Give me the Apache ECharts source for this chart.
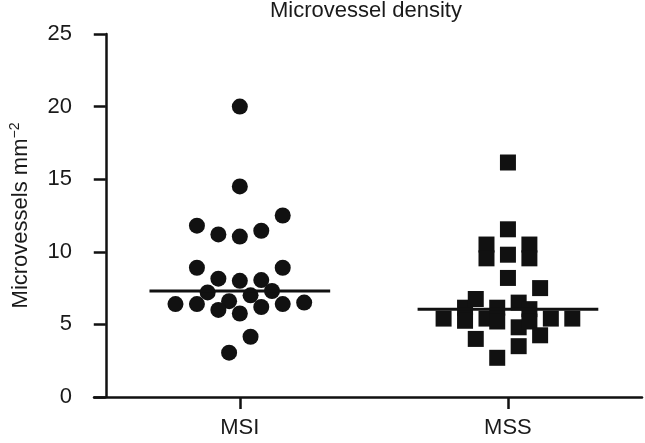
<!DOCTYPE html>
<html>
<head>
<meta charset="utf-8">
<script src="https://cdn.jsdelivr.net/npm/echarts@6/dist/echarts.min.js"></script>
<style>
  html, body { margin: 0; padding: 0; background: #fff; }
  #chart { width: 645px; height: 443px; }
</style>
</head>
<body>
<div id="chart"></div>
<script>
// groups sit at x = 0.5 and 1.5 on a hidden value axis; x is the column jitter
const categories = ['MSI', 'MSS']
const groupCentres = [0.5, 1.5]
const medians = [7.3, 6.05]

const msiPoints = [
  [0.50, 20.0], [0.50, 14.5], [0.34, 11.8], [0.42, 11.2], [0.50, 11.05],
  [0.58, 11.45], [0.66, 12.5], [0.34, 8.9], [0.66, 8.9], [0.42, 8.15],
  [0.50, 8.0], [0.58, 8.05], [0.38, 7.2], [0.54, 7.0], [0.62, 7.3],
  [0.26, 6.4], [0.34, 6.4], [0.46, 6.6], [0.42, 6.0], [0.50, 5.75],
  [0.58, 6.2], [0.66, 6.4], [0.74, 6.5], [0.54, 4.15], [0.46, 3.05]
]

const mssPoints = [
  [1.50, 16.15], [1.50, 11.55], [1.42, 10.5], [1.42, 9.55], [1.58, 10.5],
  [1.58, 9.55], [1.50, 9.8], [1.50, 8.2], [1.62, 7.5], [1.26, 5.4],
  [1.34, 6.15], [1.34, 5.25], [1.38, 6.75], [1.38, 4.0], [1.42, 5.4],
  [1.46, 6.15], [1.46, 5.2], [1.46, 2.7], [1.54, 6.5], [1.54, 4.8],
  [1.54, 3.5], [1.58, 6.05], [1.58, 5.2], [1.62, 4.25], [1.66, 5.4],
  [1.74, 5.4]
]

const yTicks = [0, 5, 10, 15, 20, 25]

const ink = '#111'
const font = 'Liberation Sans, Arial, sans-serif'
const halfLine = 0.337

const chart = echarts.init(document.getElementById('chart'))

const medianSeries = groupCentres.map((c, i) => ({
  type: 'line',
  data: [[c - halfLine, medians[i]], [c + halfLine, medians[i]]],
  symbol: 'none',
  lineStyle: { color: ink, width: 3 },
  z: 3
}))

chart.setOption({
  animation: false,
  backgroundColor: '#fff',
  title: {
    text: 'Microvessel density',
    left: 270,
    top: 0,
    padding: 0,
    textStyle: { fontFamily: font, fontSize: 22, fontWeight: 'normal', color: '#1a1a1a' }
  },
  grid: { left: 83, right: 3, top: 34, bottom: 46 },
  xAxis: {
    type: 'value',
    min: -0.0439,
    max: 2,
    splitLine: { show: false },
    axisLine: { lineStyle: { color: ink, width: 2.5 } },
    axisTick: { customValues: groupCentres, length: 12, lineStyle: { color: ink, width: 2.5 } },
    axisLabel: {
      customValues: groupCentres,
      formatter: v => categories[Math.round(v - 0.5)],
      margin: 20,
      fontFamily: font, fontSize: 22, color: '#1a1a1a'
    }
  },
  yAxis: {
    type: 'value',
    min: 0,
    max: 25,
    interval: 5,
    name: '{a|Microvessels mm}{s|−2}',
    nameLocation: 'middle',
    nameGap: 60,
    nameTextStyle: {
      rich: {
        a: { fontFamily: font, fontSize: 22, color: '#1a1a1a', lineHeight: 26 },
        s: { fontFamily: font, fontSize: 14, color: '#1a1a1a', verticalAlign: 'top', lineHeight: 14 }
      }
    },
    splitLine: { show: false },
    axisLine: { onZero: true, lineStyle: { color: ink, width: 2.5 } },
    axisTick: { length: 12, lineStyle: { color: ink, width: 2.5 } },
    axisLabel: {
      margin: 22,
      fontFamily: font, fontSize: 22, color: '#1a1a1a',
      formatter: v => yTicks.includes(v) ? String(v) : ''
    }
  },
  series: [
    {
      name: categories[0],
      type: 'scatter',
      data: msiPoints,
      symbol: 'circle',
      symbolSize: 16,
      itemStyle: { color: ink, opacity: 1 },
      z: 2
    },
    {
      name: categories[1],
      type: 'scatter',
      data: mssPoints,
      symbol: 'rect',
      symbolSize: 16,
      itemStyle: { color: ink, opacity: 1 },
      z: 2
    },
    ...medianSeries
  ]
})
</script>
</body>
</html>
